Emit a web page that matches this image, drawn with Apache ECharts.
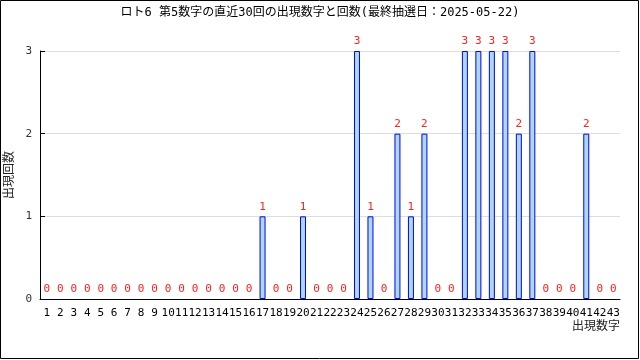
<!DOCTYPE html>
<html><head><meta charset="utf-8">
<script src="https://cdn.jsdelivr.net/npm/echarts@6/dist/echarts.min.js"></script>
<style>html,body{margin:0;padding:0;background:#fff}#c{width:640px;height:360px}</style>
</head><body><div id="c"></div>
<script>
const titleText = 'ロト6 第5数字の直近30回の出現数字と回数(最終抽選日：2025-05-22)';
const categories = ['1','2','3','4','5','6','7','8','9','10','11','12','13','14','15','16','17','18','19','20','21','22','23','24','25','26','27','28','29','30','31','32','33','34','35','36','37','38','39','40','41','42','43'];
const counts = [0,0,0,0,0,0,0,0,0,0,0,0,0,0,0,0,1,0,0,1,0,0,0,3,1,0,2,1,2,0,0,3,3,3,3,2,3,0,0,0,2,0,0];
const yTicks = [0,1,2,3];
const xName = '出現数字';
const yName = '出現回数';

const mono = '"DejaVu Sans Mono", "Noto Sans CJK JP", monospace';
const chart = echarts.init(document.getElementById('c'));
chart.setOption({
  animation: false,
  backgroundColor: '#fff',
  title: {text: titleText, left: 'center', top: 2, textStyle: {fontFamily: mono, fontSize: 12, fontWeight: 'normal', color: '#000'}},
  graphic: [{type: 'rect', shape: {x: 0.5, y: 0.5, width: 638, height: 358}, style: {fill: 'none', stroke: '#000', lineWidth: 1}, z: 100}],
  grid: {left: 40, right: 20, top: 51, bottom: 61, containLabel: false, outerBoundsMode: 'none'},
  xAxis: {
    type: 'category', data: categories,
    name: xName, nameLocation: 'end', nameGap: 0,
    nameTextStyle: {fontFamily: '"Noto Sans CJK JP"', fontSize: 12, color: '#222', align: 'right', verticalAlign: 'top', padding: [20, 0, 0, 0]},
    axisLine: {lineStyle: {color: '#000'}},
    axisTick: {inside: true, length: 4, alignWithLabel: false, lineStyle: {color: '#000'}},
    axisLabel: {interval: 0, fontFamily: mono, fontSize: 11, color: '#000', margin: 9}
  },
  yAxis: {
    type: 'value', min: 0, max: 3, interval: 1,
    name: yName, nameLocation: 'middle', nameGap: 25, nameRotate: 90,
    nameTextStyle: {fontFamily: '"Noto Sans CJK JP"', fontSize: 12, color: '#222'},
    axisLine: {show: true, lineStyle: {color: '#000'}},
    axisTick: {show: true, inside: true, length: 5, lineStyle: {color: '#000'}},
    axisLabel: {fontFamily: mono, fontSize: 11, color: '#333', margin: 8},
    splitLine: {lineStyle: {color: '#ddd'}}
  },
  series: [{
    type: 'bar', barWidth: 6,
    data: counts.map(v => v === 0 ? {value: v, itemStyle: {borderWidth: 0}} : v),
    itemStyle: {color: '#add8e6', borderColor: '#0000ff', borderWidth: 1},
    label: {show: true, position: 'top', distance: 4, fontFamily: mono, fontSize: 11, color: '#ff2020'}
  }]
});
</script></body></html>
